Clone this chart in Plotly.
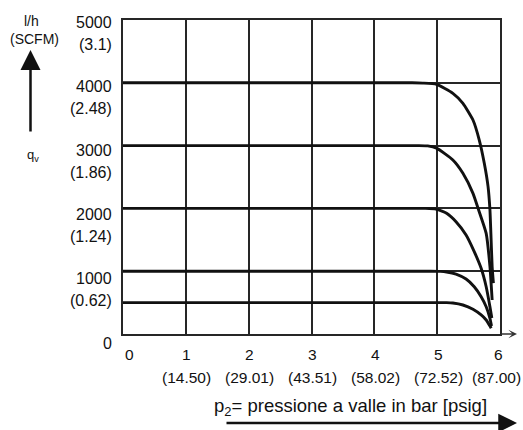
import plotly.graph_objects as go

# ---- data ----
x_ticks = [0, 1, 2, 3, 4, 5, 6]
x_psig = ["", "(14.50)", "(29.01)", "(43.51)", "(58.02)", "(72.52)", "(87.00)"]
y_ticks = [0, 1000, 2000, 3000, 4000, 5000]
y_scfm = ["", "(0.62)", "(1.24)", "(1.86)", "(2.48)", "(3.1)"]

c4000_x = [0, 4.6, 4.77, 4.99, 5.25, 5.41, 5.57, 5.67, 5.75, 5.81, 5.84, 5.855, 5.875, 5.895]
c4000_y = [4000, 4000, 3995, 3975, 3833, 3674, 3408, 3089, 2718, 2346, 1975, 1600, 1070, 810]
c3000_x = [0, 4.7, 4.85, 4.99, 5.25, 5.41, 5.57, 5.66, 5.78, 5.84, 5.875]
c3000_y = [3000, 3000, 2995, 2960, 2771, 2559, 2240, 1975, 1603, 1072, 541]
c2000_x = [0, 4.8, 4.98, 5.15, 5.30, 5.46, 5.59, 5.70, 5.78, 5.84, 5.87]
c2000_y = [2000, 2000, 1990, 1922, 1788, 1576, 1311, 1046, 753, 435, 255]
c1000_x = [0, 4.9, 5.05, 5.15, 5.30, 5.46, 5.59, 5.70, 5.78, 5.84, 5.865]
c1000_y = [1000, 1000, 997, 988, 955, 876, 753, 594, 435, 250, 127]
c500_x = [0, 5.0, 5.15, 5.25, 5.41, 5.57, 5.70, 5.78, 5.84, 5.86]
c500_y = [500, 500, 499, 494, 462, 393, 303, 223, 127, 91]

curves = [(c4000_x, c4000_y), (c3000_x, c3000_y), (c2000_x, c2000_y),
          (c1000_x, c1000_y), (c500_x, c500_y)]

FONT = "Liberation Sans, Arial, sans-serif"
INK = "#111111"

W, H = 523, 430
L, R, T, B = 123, 23, 20, 96
pw, ph = W - L - R, H - T - B


def px(xp):
    return (xp - L) / pw


def py(yp):
    return (H - B - yp) / ph


fig = go.Figure()
for cx, cy in curves:
    fig.add_trace(go.Scatter(x=cx, y=cy, mode="lines",
                             line=dict(color=INK, width=2.9, shape="spline", smoothing=0.5),
                             showlegend=False, hoverinfo="skip"))

ann = []
# x tick labels
for i, (v, p) in enumerate(zip(x_ticks, x_psig)):
    ann.append(dict(x=v, y=0, xref="x", yref="paper", text=str(v), showarrow=False,
                    xanchor="center", yanchor="middle", yshift=-20,
                    xshift=(6 if i == 0 else (-2 if i == len(x_ticks) - 1 else 1)),
                    font=dict(size=15.5, color=INK, family=FONT)))
    if p:
        ann.append(dict(x=v, y=0, xref="x", yref="paper", text=p, showarrow=False,
                        xanchor="center", yanchor="middle", yshift=-43,
                        xshift=(-4 if i == len(x_ticks) - 1 else 1),
                        font=dict(size=15.5, color=INK, family=FONT)))
# y tick labels
n = len(y_ticks)
for i, (v, s) in enumerate(zip(y_ticks, y_scfm)):
    off = 2 + 1.4 * (n - 1 - i)
    ann.append(dict(x=0, y=v, xref="paper", yref="y", text=str(v), showarrow=False,
                    xanchor="right", yanchor="middle", xshift=-9, yshift=-off,
                    font=dict(size=16, color=INK, family=FONT)))
    if s:
        ann.append(dict(x=0, y=v, xref="paper", yref="y", text=s, showarrow=False,
                        xanchor="right", yanchor="middle", xshift=-9, yshift=-off - 22,
                        font=dict(size=16, color=INK, family=FONT)))

ann.append(dict(x=px(350), y=py(407), xref="paper", yref="paper",
                text="p<sub>2</sub>= pressione a valle in bar [psig]", showarrow=False,
                xanchor="center", yanchor="middle",
                font=dict(size=18.5, color=INK, family=FONT)))
ann.append(dict(x=px(31), y=py(21), xref="paper", yref="paper", text="l/h", showarrow=False,
                xanchor="center", yanchor="middle", font=dict(size=14, color=INK, family=FONT)))
ann.append(dict(x=px(34), y=py(39), xref="paper", yref="paper", text="(SCFM)", showarrow=False,
                xanchor="center", yanchor="middle", font=dict(size=14, color=INK, family=FONT)))
ann.append(dict(x=px(33), y=py(155), xref="paper", yref="paper", text="q<sub>v</sub>",
                showarrow=False, xanchor="center", yanchor="middle",
                font=dict(size=13, color=INK, family=FONT)))
# left vertical arrow (tail offset in pixels from head)
ann.append(dict(x=px(30.5), y=py(50), ax=0, ay=133 - 50, xref="paper", yref="paper",
                axref="pixel", ayref="pixel", text="", showarrow=True,
                arrowhead=2, arrowsize=1.6, arrowwidth=2.5, arrowcolor=INK))
# bottom long arrow
ann.append(dict(x=px(517), y=py(423), ax=225 - 517, ay=0, xref="paper", yref="paper",
                axref="pixel", ayref="pixel", text="", showarrow=True,
                arrowhead=2, arrowsize=1.5, arrowwidth=2.5, arrowcolor=INK))
# x-axis extension arrow
ann.append(dict(x=px(517), y=0, ax=(L + pw) - 517, ay=0, xref="paper", yref="paper",
                axref="pixel", ayref="pixel", text="", showarrow=True,
                arrowhead=3, arrowsize=0.9, arrowwidth=1.6, arrowcolor="#333333"))

axis_common = dict(showgrid=True, gridcolor="#262626", gridwidth=1.5, zeroline=False,
                   showline=True, linecolor="#262626", linewidth=1.9, mirror=True,
                   showticklabels=False, ticks="", fixedrange=True)

fig.update_layout(
    width=W, height=H, autosize=False,
    margin=dict(l=L, r=R, t=T, b=B, pad=0),
    paper_bgcolor="white", plot_bgcolor="white",
    xaxis=dict(range=[0, 6], tickvals=x_ticks, **axis_common),
    yaxis=dict(range=[0, 5000], tickvals=y_ticks, **axis_common),
    annotations=ann,
    showlegend=False,
)

fig.write_html("out.html", config={"displayModeBar": False},
               post_script="document.body.style.margin='0px';document.body.style.padding='0px';")
